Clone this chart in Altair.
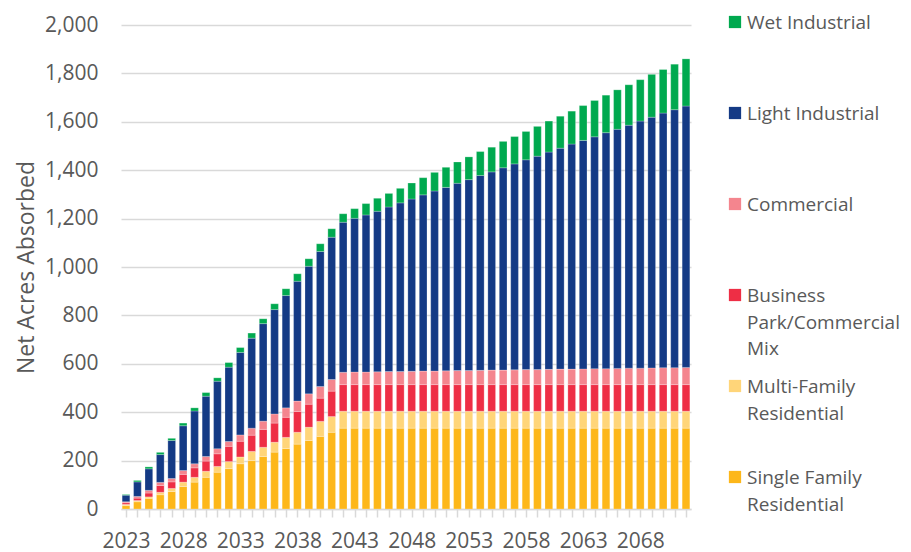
import altair as alt
import pandas as pd

years = list(range(2023, 2073))

series_names = [
    "Single Family Residential",
    "Multi-Family Residential",
    "Business Park/Commercial Mix",
    "Commercial",
    "Light Industrial",
    "Wet Industrial",
]
colors = ["#FDB71A", "#FFD579", "#EE2E45", "#F4858E", "#143A85", "#00A94F"]

legend_order = [
    "Wet Industrial",
    "Light Industrial",
    "Commercial",
    "Business Park/Commercial Mix",
    "Multi-Family Residential",
    "Single Family Residential",
]
legend_labels = [
    "Wet Industrial",
    "Light Industrial",
    "Commercial",
    "Business\nPark/Commercial\nMix",
    "Multi-Family\nResidential",
    "Single Family\nResidential",
]

single_family = [14, 30, 44, 59, 72, 93, 111, 131, 152, 167, 187, 200, 217, 235, 250, 268, 283, 300, 317, 334,
                 334, 334, 334, 334, 334, 334, 334, 334, 334, 334, 334, 334, 334, 334, 334,
                 334, 334, 334, 334, 334, 334, 334, 334, 334, 334, 334, 334, 334, 334, 334]
multi_family = [5, 5, 6, 10, 13, 18, 20, 25, 24, 29, 28, 38, 38, 41, 46, 49, 55, 62, 65, 70,
                70, 70, 70, 70, 70, 70, 70, 70, 70, 70, 70, 70, 70, 70, 70,
                70, 70, 70, 70, 70, 70, 70, 70, 70, 70, 70, 70, 70, 70, 70]
business_park = [7, 10, 16, 28, 27, 32, 39, 42, 52, 63, 65, 67, 74, 79, 83, 86, 95, 96, 105, 110,
                 110, 110, 110, 110, 110, 110, 110, 110, 110, 110, 110, 110, 110, 110, 110,
                 110, 110, 110, 110, 110, 110, 110, 110, 110, 110, 110, 110, 110, 110, 110]
commercial = [4, 7, 11, 13, 14, 16, 17, 19, 21, 20, 26, 29, 34, 38, 39, 43, 43, 48, 48, 51,
              52, 52, 53, 54, 54, 55, 56, 56, 57, 58, 58, 59, 60, 60, 61,
              62, 62, 63, 64, 64, 65, 66, 66, 67, 68, 68, 69, 70, 70, 71]
light_industrial = [27, 60, 89, 115, 157, 185, 218, 249, 279, 307, 341, 372, 403, 431, 464, 495, 527, 558, 588, 620,
                    635, 649, 663, 680, 697, 712, 728, 744, 758, 774, 789, 805, 819, 836, 851,
                    867, 882, 898, 913, 930, 944, 958, 975, 988, 1004, 1021, 1036, 1052, 1066, 1080]
wet_industrial = [3, 6, 8, 9, 9, 11, 13, 15, 14, 19, 20, 21, 20, 24, 28, 31, 31, 32, 35, 35,
                  40, 47, 54, 56, 60, 66, 71, 77, 83, 88, 94, 99, 102, 109, 113,
                  117, 123, 128, 132, 136, 144, 150, 155, 163, 167, 171, 177, 180, 188, 195]

all_series = [single_family, multi_family, business_park, commercial, light_industrial, wet_industrial]

rows = []
for i, yr in enumerate(years):
    for k, (name, vals) in enumerate(zip(series_names, all_series)):
        rows.append({"year": yr, "series": name, "value": vals[i], "stack": k})
df = pd.DataFrame(rows)

legend_df = pd.DataFrame({"series": legend_order, "label": legend_labels})

FONT = "Open Sans"
GREY = "#595959"
GRID = "#D9D9D9"

color_scale = alt.Scale(domain=series_names, range=colors)

bars = alt.Chart(df).mark_bar(size=7.7, clip=True, stroke="white", strokeWidth=0.4, strokeOpacity=0.6).encode(
    x=alt.X(
        "year:Q",
        scale=alt.Scale(domain=[2023, 2072], nice=False, zero=False),
        axis=alt.Axis(
            values=years,
            format="d",
            labelExpr="(datum.value - 2023) % 5 === 0 ? datum.label : ''",
            title=None,
            grid=False,
            labelFlush=False,
            labelOverlap=False,
            labelFont=FONT,
            labelFontSize=21,
            labelColor=GREY,
            labelPadding=13,
            tickColor=GRID,
            tickSize=8,
            tickWidth=1.5,
            domainColor=GRID,
            domainWidth=1.5,
        ),
    ),
    y=alt.Y(
        "value:Q",
        stack="zero",
        scale=alt.Scale(domain=[0, 2000], nice=False),
        axis=alt.Axis(
            values=list(range(0, 2001, 200)),
            format=",.0f",
            title="Net Acres Absorbed",
            titleFont=FONT,
            titleFontSize=23,
            titleFontWeight="normal",
            titleColor=GREY,
            titlePadding=6,
            labelFont=FONT,
            labelFontSize=21,
            labelColor=GREY,
            labelPadding=23,
            domain=False,
            ticks=False,
            tickSize=0,
            grid=True,
            gridColor=GRID,
            gridWidth=1.3,
        ),
    ),
    color=alt.Color("series:N", scale=color_scale, legend=None),
    order=alt.Order("stack:Q", sort="ascending"),
).properties(width=570, height=484)

legend_y = alt.Y(
    "series:N",
    scale=alt.Scale(type="point", domain=legend_order, range=[-3, 452], padding=0),
    axis=None,
)
squares = alt.Chart(legend_df).mark_square(size=150, opacity=1).encode(
    x=alt.value(14),
    y=legend_y,
    color=alt.Color("series:N", scale=color_scale, legend=None),
)
texts = alt.Chart(legend_df).mark_text(
    align="left", baseline="top", dy=-8, lineBreak="\n", lineHeight=26.5,
    font=FONT, fontSize=19, color=GREY,
).encode(
    x=alt.value(26),
    y=legend_y,
    text="label:N",
)
legend = alt.layer(squares, texts).properties(width=170, height=484)

chart = alt.hconcat(bars, legend, spacing=30).properties(
    padding={"left": 7, "top": 6, "right": 0, "bottom": 10}
).configure_view(stroke=None)

chart.save("out.html", embed_options={"renderer": "svg", "actions": False})
